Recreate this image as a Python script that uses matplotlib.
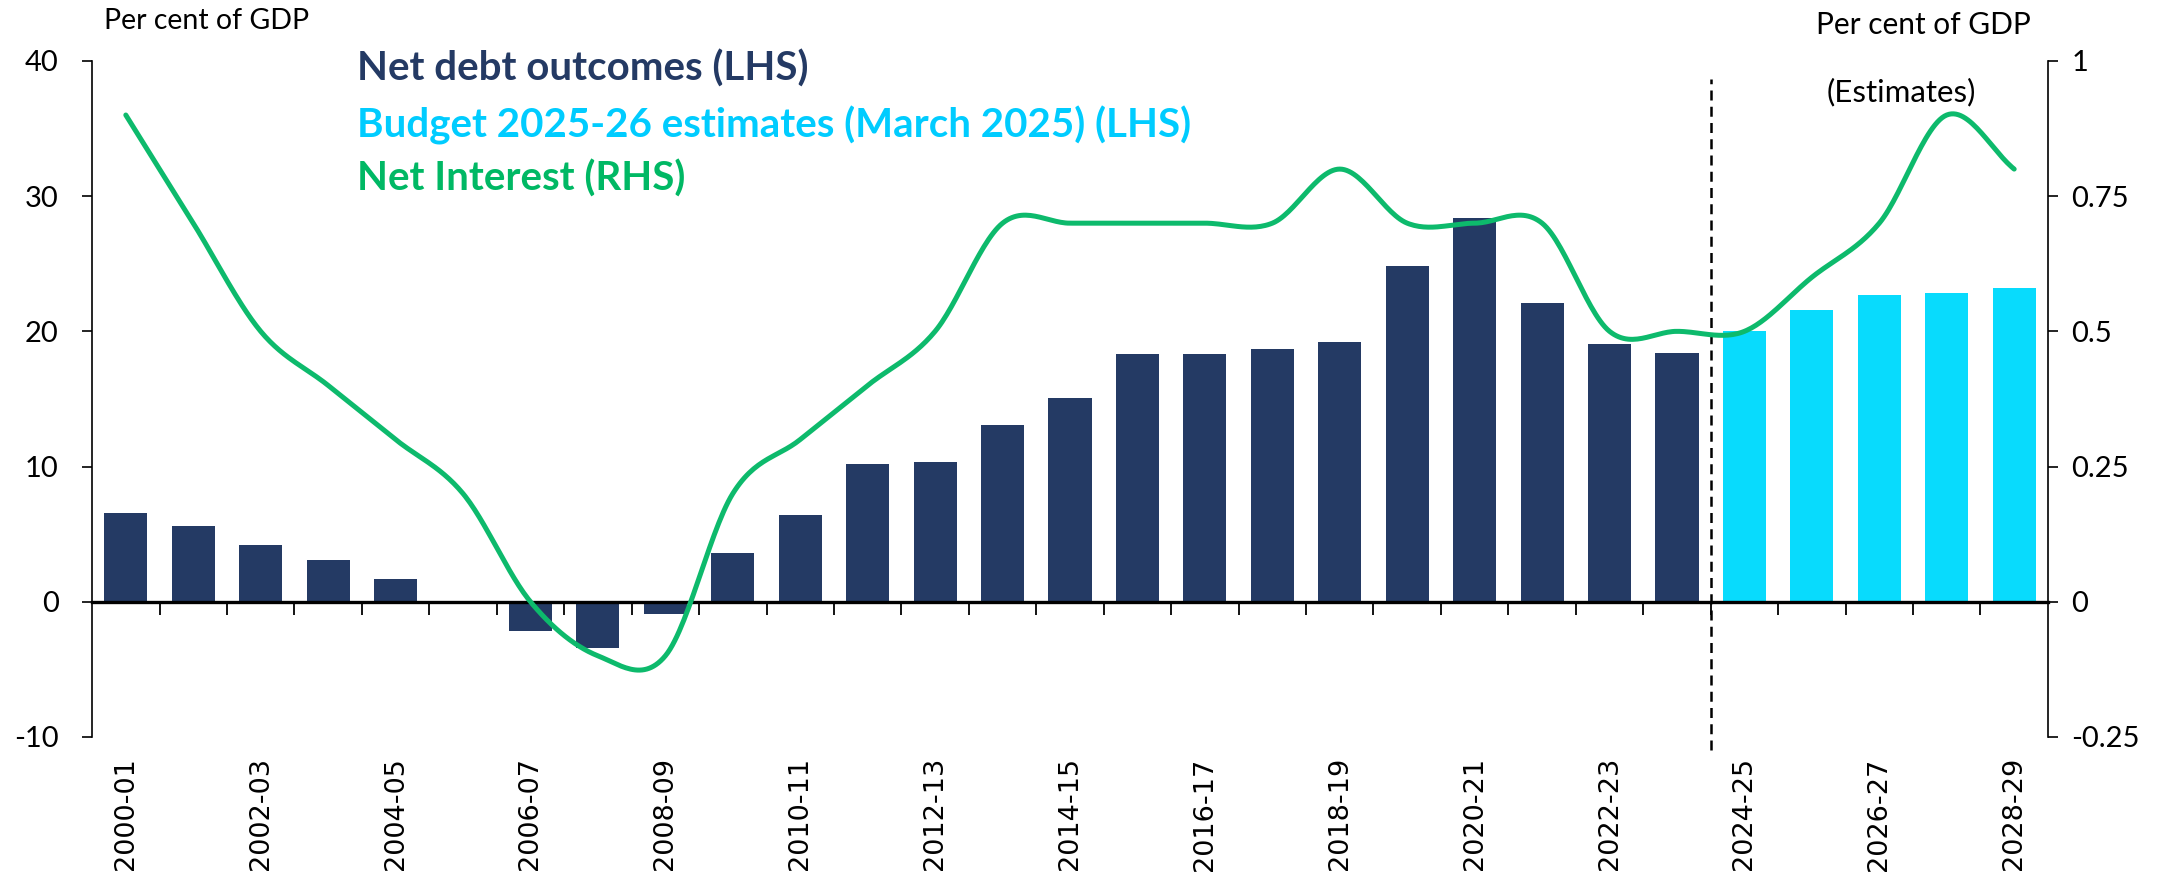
import numpy as np
import matplotlib.pyplot as plt
import matplotlib.transforms as mtransforms

import matplotlib as mpl

mpl.use("Agg")

###############################################################################

years = [
    "2000-01", "2001-02", "2002-03", "2003-04", "2004-05", "2005-06",
    "2006-07", "2007-08", "2008-09", "2009-10", "2010-11", "2011-12",
    "2012-13", "2013-14", "2014-15", "2015-16", "2016-17", "2017-18",
    "2018-19", "2019-20", "2020-21", "2021-22", "2022-23", "2023-24",
    "2024-25", "2025-26", "2026-27", "2027-28", "2028-29",
]

# net debt outcomes, per cent of GDP (LHS)
net_debt_outcomes = [
    6.6, 5.6, 4.2, 3.1, 1.7, 0.0, -2.2, -3.4, -0.9, 3.6, 6.4, 10.2,
    10.3, 13.1, 15.1, 18.3, 18.3, 18.7, 19.2, 24.8, 28.4, 22.1, 19.1, 18.4,
]

# Budget 2025-26 estimates, per cent of GDP (LHS)
budget_estimates = [20.0, 21.6, 22.7, 22.8, 23.2]

# net interest, per cent of GDP (RHS)
net_interest = [
    0.9, 0.7, 0.5, 0.4, 0.3, 0.2, 0.0, -0.1, -0.1, 0.2, 0.3, 0.4, 0.5,
    0.7, 0.7, 0.7, 0.7, 0.7, 0.8, 0.7, 0.7, 0.7, 0.5, 0.5, 0.5, 0.6,
    0.7, 0.9, 0.8,
]

left_ticks = [-10, 0, 10, 20, 30, 40]
right_ticks = [-0.25, 0, 0.25, 0.5, 0.75, 1]
right_tick_labels = ["-0.25", "0", "0.25", "0.5", "0.75", "1"]

###############################################################################

navy = "#243a64"
cyan = "#08dbfd"
green = "#0dba6c"


def smooth_line(xs, ys, n=30):
    # Catmull-Rom spline through the points (like Excel's smoothed line)
    p = np.column_stack([xs, ys]).astype(float)
    p = np.vstack([2 * p[0] - p[1], p, 2 * p[-1] - p[-2]])
    t = np.linspace(0, 1, n)[:, None]
    out = []
    for i in range(1, len(p) - 2):
        p0, p1, p2, p3 = p[i - 1], p[i], p[i + 1], p[i + 2]
        seg = 0.5 * (
            2 * p1
            + (-p0 + p2) * t
            + (2 * p0 - 5 * p1 + 4 * p2 - p3) * t ** 2
            + (-p0 + 3 * p1 - 3 * p2 + p3) * t ** 3
        )
        out.append(seg if i == 1 else seg[1:])
    out = np.vstack(out)
    return out[:, 0], out[:, 1]


tick_font = "Lato"

fig = plt.figure(figsize=(21.77, 8.83), dpi=100)
ax = fig.add_axes([0.0423, 0.1654, 0.8984, 0.7656])

n_out = len(net_debt_outcomes)
x_out = np.arange(n_out)
x_est = np.arange(n_out, n_out + len(budget_estimates))

ax.bar(x_out, net_debt_outcomes, width=0.64, color=navy, zorder=2)
ax.bar(x_est, budget_estimates, width=0.64, color=cyan, zorder=2)

ax.set_xlim(-0.5, len(years) - 0.5)
ax.set_ylim(-10, 40)
ax.set_yticks(left_ticks)
ax.set_yticklabels([str(v) for v in left_ticks], fontsize=21, family=tick_font)
ax.tick_params(axis="y", direction="out", length=7, width=1.2, pad=17)

ax.spines["top"].set_visible(False)
ax.spines["right"].set_visible(False)
ax.spines["left"].set_linewidth(1.2)
ax.spines["bottom"].set_position(("data", 0))
ax.spines["bottom"].set_linewidth(2.4)
ax.spines["bottom"].set_zorder(3)

ax.set_xticks(np.arange(0.5, len(years) - 1, 1.0))
ax.set_xticklabels([])
ax.tick_params(axis="x", direction="out", length=9, width=1.3)

trans = mtransforms.blended_transform_factory(ax.transData, ax.transAxes)
for i in range(0, len(years), 2):
    ax.text(
        i, -0.03, years[i], transform=trans, rotation=90,
        ha="center", va="top", fontsize=19.5, family="DejaVu Sans",
    )

# divider between outcomes and estimates
ax.plot(
    [n_out - 0.5, n_out - 0.5], [-11, 38.7], color="black",
    linestyle=(0, (4, 2.5)), linewidth=1.8, clip_on=False, zorder=4,
)

ax2 = ax.twinx()
ax2.set_ylim(-0.25, 1)
ax2.set_yticks(right_ticks)
ax2.set_yticklabels(right_tick_labels, fontsize=21, family=tick_font)
ax2.tick_params(axis="y", direction="out", length=7, width=1.2, pad=10)
for side in ["top", "bottom", "left"]:
    ax2.spines[side].set_visible(False)
ax2.spines["right"].set_linewidth(1.2)

sx, sy = smooth_line(np.arange(len(years)), net_interest)
ax2.plot(sx, sy, color=green, linewidth=3.6, solid_capstyle="round", zorder=5)

# axis titles and labels
fig.text(104 / 2177, 1 - 21 / 883, "Per cent of GDP", fontsize=20.5,
         family=tick_font, ha="left", va="center")
fig.text(2031 / 2177, 1 - 25 / 883, "Per cent of GDP", fontsize=21.5,
         family=tick_font, ha="right", va="center")
fig.text(1901 / 2177, 1 - 92 / 883, "(Estimates)", fontsize=22.5,
         family=tick_font, ha="center", va="center")

legend_items = [
    ("Net debt outcomes (LHS)", navy, 69),
    ("Budget 2025-26 estimates (March 2025) (LHS)", "#00ccff", 125),
    ("Net Interest (RHS)", "#00b864", 179),
]
for label, col, ypix in legend_items:
    fig.text(357 / 2177, 1 - ypix / 883, label, fontsize=29, weight="bold",
             family=tick_font, color=col, ha="left", va="center")

plt.savefig("out.png", dpi=100)
plt.close()
